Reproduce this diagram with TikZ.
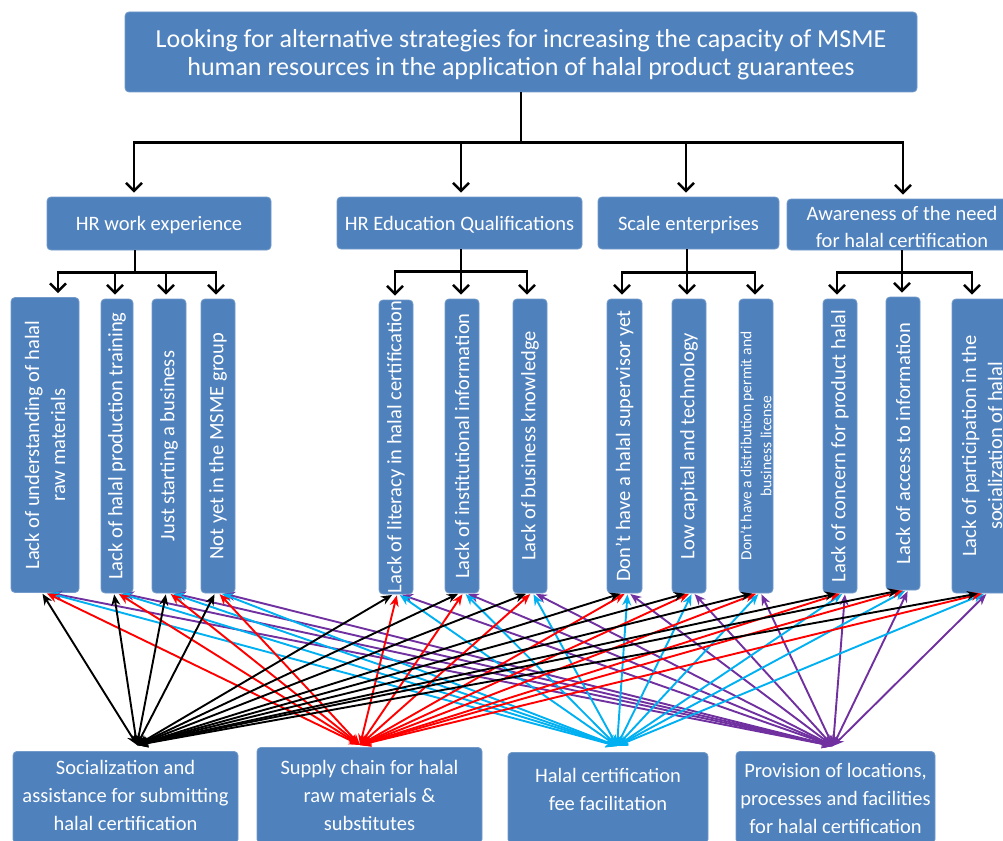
\documentclass[tikz,border=0pt]{standalone}
\usepackage{fontspec}
\setmainfont{Carlito}
\usetikzlibrary{arrows.meta,calc}
\definecolor{boxblue}{HTML}{4F81BD}
\definecolor{cred}{HTML}{FF0000}
\definecolor{ccyan}{HTML}{00B0F0}
\definecolor{cpurple}{HTML}{7030A0}
\tikzset{
  box/.style={fill=boxblue, draw=boxblue!80!white, line width=0.8pt, rounded corners=4pt,
    text=white, align=center, inner sep=0pt},
  intext/.style={text=white, align=center, inner sep=0pt},
  toptext/.style={intext, font=\fontsize{26}{28}\selectfont},
  midbox/.style={box, font=\fontsize{20.5}{27}\selectfont, text height=19.5pt, text depth=5.5pt},
  midtext/.style={intext, font=\fontsize{20.5}{27}\selectfont},
  vbox/.style={box, rotate=90, font=\fontsize{20.5}{26}\selectfont},
  smallvbox/.style={box, rotate=90, font=\fontsize{15.5}{20}\selectfont},
  bbox/.style={box},
  btext/.style={intext, font=\fontsize{20.5}{28}\selectfont},
  tarrow/.style={line width=2.4pt, -{Straight Barb[length=8pt,width=16pt]}, shorten >=4pt},
  link/.style={line width=1.9pt, {Stealth[length=11pt,width=9pt]}-{Stealth[length=11pt,width=9pt]}, shorten >=1pt}
}
\begin{document}
\begin{tikzpicture}[x=1pt,y=-1pt]
\useasboundingbox (0,0) rectangle (1003,840);
\clip (0,0) rectangle (1003,840);

% top
\node[box, minimum width=792, minimum height=80,
  label={[toptext, yshift=-2.5pt]center:Looking for alternative strategies for increasing the capacity of MSME\\human resources in the application of halal product guarantees}]
  (top) at (521,52) {};

% level 2
\node[midbox, minimum width=224, minimum height=53] (hrw) at (159,223.5) {HR work experience};
\node[midbox, minimum width=245, minimum height=52] (hre) at (459.5,223) {HR Education Qualifications};
\node[midbox, minimum width=181, minimum height=52] (sce) at (688.5,223) {Scale enterprises};
\node[box, minimum width=230, minimum height=51,
  label={[midtext, yshift=-2pt]center:Awareness of the need\\for halal certification}]
  (awa) at (902,224.5) {};

% level 3 (vertical)
\node[vbox, minimum width=295, minimum height=68] (b1) at (45,445) {Lack of understanding of halal\\raw materials};
\node[vbox, minimum width=294, minimum height=32] (b2) at (117,446) {Lack of halal production training};
\node[vbox, minimum width=294, minimum height=34] (b3) at (169,446) {Just starting a business};
\node[vbox, minimum width=294, minimum height=34] (b4) at (218,446) {Not yet in the MSME group};
\node[vbox, minimum width=294, minimum height=34] (b5) at (396,447) {Lack of literacy in halal certification};
\node[vbox, minimum width=294, minimum height=34] (b6) at (462,446) {Lack of institutional information};
\node[vbox, minimum width=294, minimum height=34] (b7) at (530,446) {Lack of business knowledge};
\node[vbox, minimum width=294, minimum height=35] (b8) at (624.5,446) {Don't have a halal supervisor yet};
\node[vbox, minimum width=294, minimum height=34] (b9) at (689,446) {Low capital and technology};
\node[smallvbox, minimum width=294, minimum height=34] (b10) at (756,446) {Don't have a distribution permit and\\business license};
\node[vbox, minimum width=294, minimum height=34] (b11) at (840,446) {Lack of concern for product halal};
\node[vbox, minimum width=293, minimum height=34] (b12) at (903,443.5) {Lack of access to information};
\node[vbox, minimum width=294, minimum height=60] (b13) at (982,446) {Lack of participation in the\\socialization of halal};

% bottom boxes
\node[bbox, minimum width=225, minimum height=92, anchor=north] (soc) at (125.5,751) {};
\node[bbox, minimum width=225, minimum height=96, anchor=north] (sup) at (369.5,747) {};
\node[bbox, minimum width=200, minimum height=91, anchor=north] (fee) at (608,752) {};
\node[bbox, minimum width=199, minimum height=92, anchor=north] (pro) at (835.5,751) {};
\node[btext] (soct) at (125.5,795) {Socialization and\\assistance for submitting\\halal certification};
\node[btext] (supt) at (369.5,795) {Supply chain for halal\\raw materials \&\\substitutes};
\node[btext] (feet) at (608,789) {Halal certification\\fee facilitation};
\node[btext] (prot) at (835.5,798) {Provision of locations,\\processes and facilities\\for halal certification};

% tree connectors
\draw[tarrow] (top.south) -- ++(0,50) -| ([xshift=-25]hrw.north);
\draw[tarrow] (top.south) -- ++(0,50) -| ([xshift=1.5]hre.north);
\draw[tarrow] (top.south) -- ++(0,50) -| ([xshift=-2.5]sce.north);
\draw[tarrow] (top.south) -- ++(0,50) -| ([xshift=1]awa.north);

\draw[tarrow] ([xshift=-24]hrw.south) -- ++(0,22) -| ([xshift=13]b1.east);
\draw[tarrow] ([xshift=-24]hrw.south) -- ++(0,22) -| ([xshift=-2]b2.east);
\draw[tarrow] ([xshift=-24]hrw.south) -- ++(0,22) -| ([xshift=-3]b3.east);
\draw[tarrow] ([xshift=-24]hrw.south) -- ++(0,22) -| ([xshift=-2]b4.east);

\draw[tarrow] ([xshift=1.5]hre.south) -- ++(0,22) -| ([xshift=-1]b5.east);
\draw[tarrow] ([xshift=1.5]hre.south) -- ++(0,22) -| ([xshift=-1]b6.east);
\draw[tarrow] ([xshift=1.5]hre.south) -- ++(0,22) -| ([xshift=-3]b7.east);

\draw[tarrow] ([xshift=-1.5]sce.south) -- ++(0,23) -| ([xshift=-2.5]b8.east);
\draw[tarrow] ([xshift=-1.5]sce.south) -- ++(0,23) -| ([xshift=-2]b9.east);
\draw[tarrow] ([xshift=-1.5]sce.south) -- ++(0,23) -| ([xshift=-1]b10.east);

\draw[tarrow] (awa.south) -- ++(0,22) -| ([xshift=-3]b11.east);
\draw[tarrow] (awa.south) -- ++(0,22) -| ([xshift=-1]b12.east);
\draw[tarrow] (awa.south) -- ++(0,22) -| ([xshift=-10]b13.east);

% cluster points
\coordinate (socP) at (137,745);
\coordinate (supP) at (360,745);
\coordinate (feeP) at (617,746);
\coordinate (proP) at (833,746);

\foreach \s/\c/\dx in {proP/cpurple/5, feeP/ccyan/3, supP/cred/1, socP/black/-3} {
  \foreach \b in {b1,b2,b3,b4,b5,b6,b7,b8,b9,b10,b11,b12,b13} {
    \draw[link, draw=\c, fill=\c] (\s) -- ([xshift=\dx]\b.west);
  }
}
\end{tikzpicture}
\end{document}
